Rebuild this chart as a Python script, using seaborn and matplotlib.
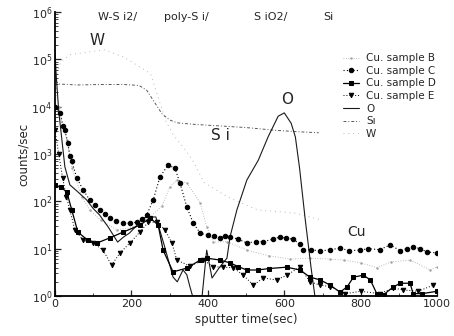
import numpy as np
import pandas as pd
import matplotlib
matplotlib.use("Agg")
import matplotlib.pyplot as plt
import seaborn as sns
from matplotlib.ticker import LogLocator, MultipleLocator, NullFormatter

# ---------------- data (log10 of counts/sec) ----------------
o_t = [0, 3, 10, 26, 39, 60, 83, 100, 117, 140, 164, 180, 195, 215, 229, 250, 264, 285,
       309, 320, 335, 345, 353, 360, 385, 397, 411, 430, 450, 458, 476, 502, 532, 558,
       584, 600, 618, 629, 640, 654, 670, 680]
o_log = [5.2, 4.7, 3.9, 2.73, 2.35, 2.2, 2.03, 1.85, 1.71, 1.45, 1.14, 1.25, 1.33, 1.5,
         1.65, 1.67, 1.67, 1.1, 0.4, 0.3, 0.55, 0.45, 0.2, 0.0, 0.0, 0.97, 0.38, 0.6,
         0.8, 1.25, 1.82, 2.45, 2.87, 3.37, 3.8, 3.87, 3.65, 3.36, 2.7, 1.67, 0.6, 0.0]

si_t = [2, 10, 60, 120, 180, 220, 240, 260, 280, 300, 320, 360, 420, 500, 580, 640, 690]
si_log = [4.55, 4.48, 4.46, 4.47, 4.47, 4.45, 4.35, 4.1, 3.85, 3.72, 3.66, 3.63, 3.6,
          3.56, 3.5, 3.47, 3.45]

w_t = [5, 15, 40, 80, 130, 180, 230, 250, 270, 290, 310, 340, 360, 390, 450, 530, 630, 700]
w_log = [4.7, 4.95, 5.1, 5.15, 5.2, 5.05, 4.8, 4.7, 4.2, 3.7, 3.4, 3.1, 2.87, 2.4, 2.1,
         1.82, 1.75, 1.6]

b_t = [0, 10, 20, 31, 45, 70, 91, 120, 162, 205, 249, 280, 300, 319, 345, 380, 397, 414,
       450, 502, 560, 615, 667, 720, 755, 800, 842, 880, 929, 982, 1000]
b_log = [4.4, 4.0, 3.6, 3.3, 2.7, 2.1, 1.82, 1.6, 1.4, 1.45, 1.67, 1.9, 2.3, 2.45, 2.39,
         1.97, 1.46, 1.14, 1.15, 0.97, 0.85, 0.78, 0.8, 0.78, 0.76, 0.7, 0.6, 0.72, 0.76,
         0.55, 0.62]

c_t = [0, 13, 21, 26, 34, 39, 44, 57, 74, 91, 105, 118, 131, 144, 161, 178, 196, 214,
       227, 240, 257, 275, 296, 314, 327, 345, 362, 380, 400, 416, 432, 445, 458, 480,
       502, 525, 545, 570, 589, 605, 623, 640, 650, 670, 694, 720, 746, 770, 798, 820,
       850, 877, 903, 920, 937, 955, 974, 1000]
c_log = [4.0, 3.87, 3.6, 3.5, 3.23, 2.95, 2.85, 2.5, 2.24, 2.03, 1.92, 1.82, 1.73, 1.65,
         1.58, 1.54, 1.54, 1.56, 1.62, 1.71, 2.03, 2.52, 2.77, 2.7, 2.39, 1.88, 1.54,
         1.33, 1.28, 1.27, 1.23, 1.26, 1.25, 1.2, 1.12, 1.15, 1.15, 1.2, 1.25, 1.22, 1.2,
         1.1, 0.97, 0.98, 0.95, 0.98, 1.01, 0.96, 0.97, 1.0, 0.98, 1.08, 0.96, 1.0, 1.04,
         1.0, 0.93, 0.91]

d_t = [0, 15, 31, 44, 60, 86, 110, 144, 178, 223, 249, 270, 283, 309, 345, 380, 397, 432,
       458, 480, 502, 530, 560, 606, 641, 667, 694, 720, 746, 765, 781, 807, 825, 842,
       860, 885, 903, 929, 937, 960, 1000]
d_log = [2.35, 2.3, 2.2, 1.82, 1.35, 1.18, 1.12, 1.23, 1.35, 1.5, 1.65, 1.5, 0.97, 0.51,
         0.59, 0.76, 0.8, 0.76, 0.7, 0.62, 0.55, 0.55, 0.58, 0.61, 0.55, 0.4, 0.34, 0.23,
         0.08, 0.2, 0.4, 0.44, 0.34, 0.05, 0.03, 0.19, 0.27, 0.27, 0.05, 0.05, 0.1]

e_t = [0, 10, 20, 30, 39, 52, 74, 100, 126, 148, 170, 196, 222, 244, 266, 288, 306, 319,
       353, 388, 414, 440, 466, 493, 519, 545, 580, 606, 641, 667, 694, 720, 760, 800,
       850, 885, 910, 950, 990]
e_log = [3.5, 3.0, 2.5, 2.1, 1.82, 1.4, 1.18, 1.12, 0.97, 0.65, 0.91, 1.12, 1.35, 1.56,
         1.56, 1.4, 1.12, 0.76, 0.63, 0.76, 0.62, 0.61, 0.6, 0.44, 0.23, 0.38, 0.34,
         0.44, 0.61, 0.3, 0.23, 0.2, 0.05, 0.1, 0.05, 0.17, 0.13, 0.1, 0.23]

layer_labels = ["W-S i2/", "poly-S i/", "S iO2/", "Si"]
layer_pos = [165, 345, 565, 715]

legend_labels = ["Cu. sample B", "Cu. sample C", "Cu. sample D", "Cu. sample E",
                 "O", "S\u0131", "W"]

# ---------------- plot ----------------
sns.set_style("ticks")
plt.rcParams['font.family'] = ['DejaVu Sans']

fig = plt.figure(figsize=(4.54, 3.36), dpi=100)
ax = fig.add_axes([0.121, 0.119, 0.842, 0.845])

def df(t, lg):
    return pd.DataFrame({"t": t, "v": 10 ** np.asarray(lg, dtype=float)})

sns.lineplot(data=df(b_t, b_log), x="t", y="v", ax=ax, color="0.65", lw=0.6,
             linestyle=(0, (1, 2)), marker=".", markersize=2, mec="0.65")
sns.lineplot(data=df(w_t, w_log), x="t", y="v", ax=ax, color="0.72", lw=0.7,
             linestyle=(0, (1, 4)))
sns.lineplot(data=df(si_t, si_log), x="t", y="v", ax=ax, color="0.35", lw=0.7,
             linestyle=(0, (3, 2, 1, 2)))
sns.lineplot(data=df(o_t, o_log), x="t", y="v", ax=ax, color="0.1", lw=0.8)
sns.lineplot(data=df(c_t, c_log), x="t", y="v", ax=ax, color="black", lw=0.8,
             linestyle=(0, (1, 2)), marker="o", markersize=3.2, mec="black")
sns.lineplot(data=df(d_t, d_log), x="t", y="v", ax=ax, color="black", lw=0.9,
             marker="s", markersize=2.8, mec="black")
sns.lineplot(data=df(e_t, e_log), x="t", y="v", ax=ax, color="black", lw=0.7,
             linestyle=(0, (1, 2)), marker="v", markersize=3.2, mec="black")

ax.set_yscale("log")
ax.set_xlim(0, 1000)
ax.set_ylim(1, 1e6)
ax.xaxis.set_major_locator(MultipleLocator(200))
ax.xaxis.set_minor_locator(MultipleLocator(100))
ax.yaxis.set_major_locator(LogLocator(base=10, numticks=10))
ax.yaxis.set_minor_locator(LogLocator(base=10, subs=np.arange(2, 10), numticks=20))
ax.yaxis.set_minor_formatter(NullFormatter())
ax.tick_params(axis="both", which="major", direction="in", length=4, width=0.9,
               labelsize=8, pad=2)
ax.tick_params(axis="both", which="minor", direction="in", length=2, width=0.6)
for s in ["top", "right"]:
    ax.spines[s].set_visible(False)
for s in ["left", "bottom"]:
    ax.spines[s].set_linewidth(1.3)
    ax.spines[s].set_color("black")

ax.set_xlabel("sputter time(sec)", fontsize=8.5, labelpad=3)
ax.set_ylabel("counts/sec", fontsize=8.5, labelpad=1)

# annotations
for lab, x in zip(layer_labels, layer_pos):
    ax.text(x, 10 ** 5.9, lab, fontsize=8, ha="center", va="center")
ax.text(110, 10 ** 5.4, "W", fontsize=11, ha="center", va="center")
ax.text(432, 10 ** 3.4, "S i", fontsize=11, ha="center", va="center")
ax.text(607, 10 ** 4.15, "O", fontsize=11, ha="center", va="center")
ax.text(790, 10 ** 1.35, "Cu", fontsize=10, ha="center", va="center")

lines = ax.get_lines()
# order of drawing: B, W, Si, O, C, D, E
order = [0, 4, 5, 6, 3, 2, 1]
handles = [lines[i] for i in order]
ax.legend(handles, legend_labels, loc="upper left", bbox_to_anchor=(0.754, 0.855),
          frameon=False, fontsize=7.5, handlelength=1.5, handletextpad=0.7,
          labelspacing=0.25, borderpad=0, borderaxespad=0)

fig.savefig("out.png", dpi=100)
